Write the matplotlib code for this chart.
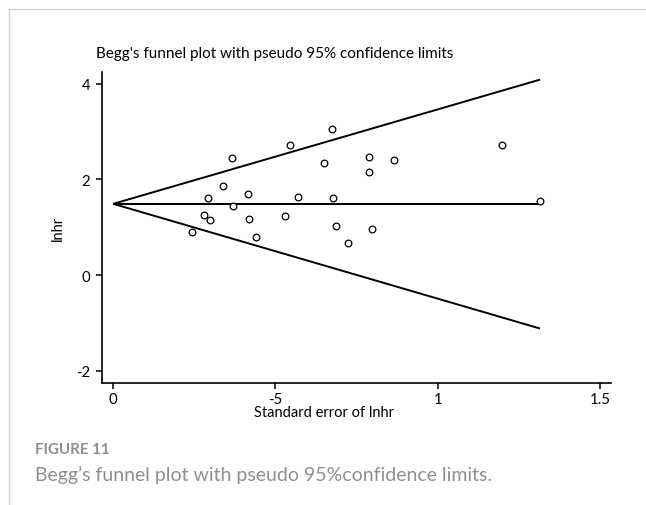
import matplotlib
matplotlib.use("Agg")
import matplotlib.pyplot as plt
from matplotlib.lines import Line2D

plt.rcParams["font.family"] = ["Lato", "DejaVu Sans"]
plt.rcParams["axes.unicode_minus"] = False

# study estimates: standard error of lnhr and lnhr
se = [0.365, 0.545, 0.673, 0.649, 0.338, 0.415, 0.293, 0.569, 0.676, 0.368,
      0.280, 0.297, 0.418, 0.530, 0.243, 0.441, 0.688, 0.722, 1.198, 0.788,
      0.865, 0.788, 1.315, 0.797]
lnhr = [2.458, 2.721, 3.054, 2.354, 1.867, 1.700, 1.604, 1.631, 1.610, 1.438,
        1.263, 1.152, 1.179, 1.242, 0.896, 0.798, 1.021, 0.673, 2.729, 2.465,
        2.402, 2.167, 1.548, 0.958]

# pooled estimate and pseudo 95% limits
funnel_se = [0.0, 1.315]
pooled = [1.49, 1.49]
upper_limit = [1.49, 4.09]
lower_limit = [1.49, -1.12]

x_ticks = [0, 0.5, 1, 1.5]
x_tick_labels = ["0", "-5", "1", "1.5"]
y_ticks = [-2, 0, 2, 4]

W, H = 646, 506
fig = plt.figure(figsize=(W / 100, H / 100), dpi=100)
fig.patch.set_facecolor("white")

ax_l, ax_r, ax_t, ax_b = 102.2, 610.7, 73, 383.5
ax = fig.add_axes([ax_l / W, 1 - ax_b / H, (ax_r - ax_l) / W, (ax_b - ax_t) / H])

ax.plot(funnel_se, pooled, color="black", lw=1.4, solid_capstyle="butt")
ax.plot(funnel_se, upper_limit, color="black", lw=1.4, solid_capstyle="butt")
ax.plot(funnel_se, lower_limit, color="black", lw=1.4, solid_capstyle="butt")
ax.plot(se, lnhr, "o", ms=4.8, mfc="white", mec="black", mew=0.9)

ax.set_xlim(-0.034, 1.533)
ax.set_ylim(-2.25, 4.25)
ax.set_xticks(x_ticks)
ax.set_xticklabels(x_tick_labels)
ax.set_yticks(y_ticks)

for s in ["top", "right"]:
    ax.spines[s].set_visible(False)
for s in ["left", "bottom"]:
    ax.spines[s].set_linewidth(1.2)
ax.tick_params(direction="out", length=4.3, width=1.1, labelsize=10.8,
               colors="black")
ax.tick_params(axis="y", pad=4.5)
ax.tick_params(axis="x", pad=2.5)

ax.set_xlabel("Standard error of lnhr", fontsize=10.5)
ax.xaxis.set_label_coords((324.5 - ax_l) / (ax_r - ax_l),
                          (ax_b - 413) / (ax_b - ax_t))
ax.xaxis.label.set_va("center")
ax.set_ylabel("lnhr", fontsize=10.5)
ax.yaxis.set_label_coords((58 - ax_l) / (ax_r - ax_l), 0.5)
ax.yaxis.label.set_va("center")

fig.text(96 / W, 1 - 54 / H, "Begg's funnel plot with pseudo 95% confidence limits",
         fontsize=11, ha="left", va="center")

# caption block
fig.text(35 / W, 1 - 450 / H, "FIGURE 11", fontsize=10.8, fontweight="bold",
         color="#8f8f8f", ha="left", va="center")
fig.text(35 / W, 1 - 475 / H, "Begg\u2019s funnel plot with pseudo 95%confidence limits.",
         fontsize=14, color="#8f8f8f", ha="left", va="center")

# page frame lines
fig.add_artist(Line2D([9 / W, 1], [1 - 10 / H, 1 - 10 / H], transform=fig.transFigure,
                      color="#d0d0d0", lw=0.9))
fig.add_artist(Line2D([9 / W, 9 / W], [0, 1 - 10 / H], transform=fig.transFigure,
                      color="#d0d0d0", lw=0.9))

fig.savefig("out.png", dpi=100)
